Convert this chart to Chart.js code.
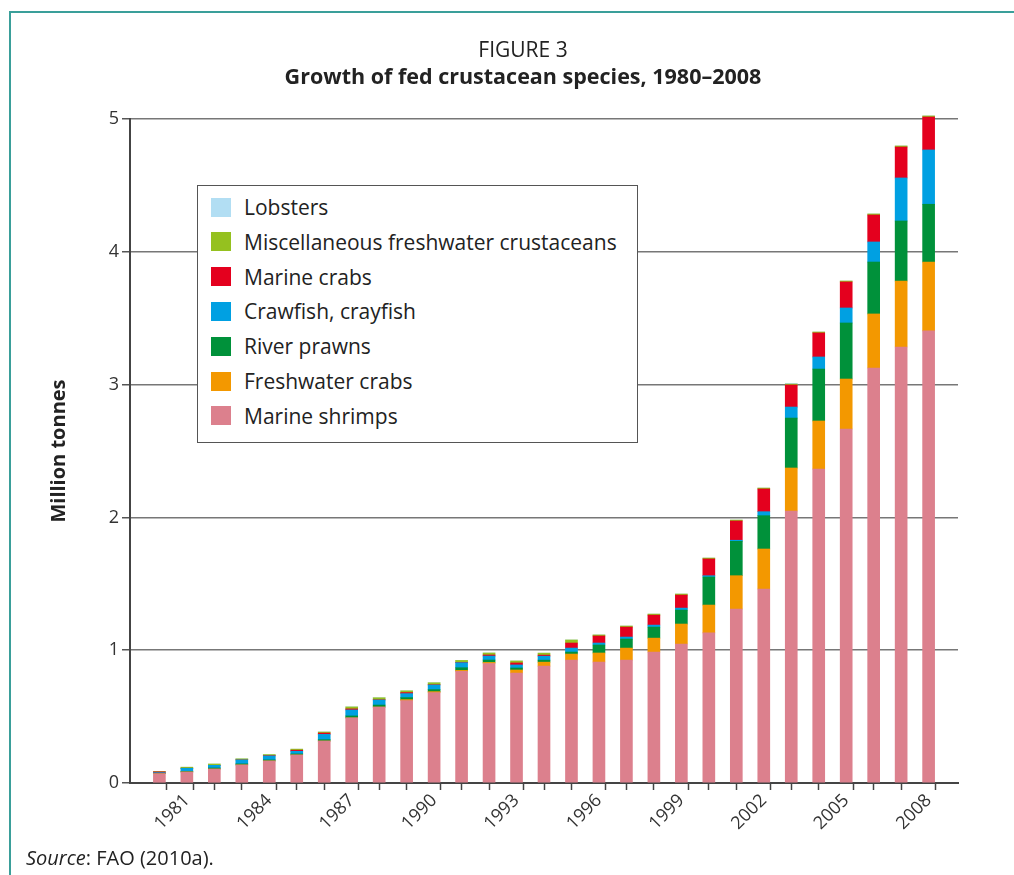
<!DOCTYPE html>
<html>
<head>
<meta charset="utf-8">
<script src="https://cdn.jsdelivr.net/npm/chart.js@4.4.1/dist/chart.umd.min.js"></script>
<style>
  html, body { margin: 0; padding: 0; background: #fff; }
  body { font-family: "Open Sans", "Noto Sans", sans-serif; color: #222; }
  #wrap { position: relative; width: 1014px; height: 875px; overflow: hidden; }
  #frame { position: absolute; left: 9px; top: 11px; width: 1100px; height: 900px;
           border-top: 2px solid #3a9f9a; border-left: 2px solid #3a9f9a; }
  #chart { position: absolute; left: 0; top: 0; }
  .title { position: absolute; left: 0; width: 1046px; text-align: center; line-height: 1; }
  #fig { top: 39px; font-size: 21px; }
  #sub { top: 65px; font-size: 21.5px; font-weight: bold; }
  #legend { position: absolute; left: 197px; top: 185px; width: 439px; height: 256px;
            border: 1.5px solid #555; background: #fff; }
  .item { position: absolute; left: 13px; height: 20px; display: flex; align-items: center; font-size: 21px; }
  .sw { width: 20px; height: 19px; margin-right: 13px; flex: none; }
  #source { position: absolute; left: 26px; top: 846px; font-size: 20px; line-height: 1.2; }
</style>
</head>
<body>
<div id="wrap">
  <div id="frame"></div>
  <canvas id="chart" width="1014" height="875"></canvas>
  <div class="title" id="fig">FIGURE 3</div>
  <div class="title" id="sub">Growth of fed crustacean species, 1980–2008</div>
  <div id="legend"></div>
  <div id="source"><i>Source</i>: FAO (2010a).</div>
</div>
<script>
const years = [1980, 1981, 1982, 1983, 1984, 1985, 1986, 1987, 1988, 1989,
  1990, 1991, 1992, 1993, 1994, 1995, 1996, 1997, 1998, 1999,
  2000, 2001, 2002, 2003, 2004, 2005, 2006, 2007, 2008];

// million tonnes
const marineShrimps = [0.07, 0.083, 0.105, 0.136, 0.166, 0.211, 0.316, 0.49, 0.572, 0.62,
  0.68, 0.84, 0.9, 0.828, 0.88, 0.926, 0.911, 0.926, 0.986, 1.047,
  1.13, 1.31, 1.461, 2.048, 2.364, 2.666, 3.125, 3.283, 3.404];
const freshwaterCrabs = [0, 0, 0, 0, 0, 0, 0, 0, 0, 0.008,
  0.008, 0.008, 0.008, 0.023, 0.03, 0.045, 0.068, 0.09, 0.105, 0.15,
  0.21, 0.251, 0.301, 0.324, 0.362, 0.376, 0.407, 0.497, 0.519];
const riverPrawns = [0.003, 0.005, 0.008, 0.008, 0.008, 0.008, 0.01, 0.015, 0.015, 0.015,
  0.015, 0.02, 0.018, 0.015, 0.015, 0.015, 0.06, 0.068, 0.083, 0.105,
  0.211, 0.259, 0.251, 0.376, 0.391, 0.422, 0.391, 0.452, 0.435];
const crawfish = [0.005, 0.023, 0.02, 0.03, 0.03, 0.02, 0.04, 0.045, 0.038, 0.03,
  0.035, 0.038, 0.03, 0.023, 0.03, 0.03, 0.015, 0.015, 0.015, 0.015,
  0.01, 0.008, 0.03, 0.083, 0.091, 0.113, 0.151, 0.324, 0.409];
const marineCrabs = [0.006, 0, 0, 0, 0.002, 0.008, 0.01, 0.008, 0.002, 0.008,
  0.002, 0.002, 0.008, 0.015, 0.008, 0.038, 0.053, 0.075, 0.075, 0.098,
  0.126, 0.145, 0.171, 0.166, 0.181, 0.196, 0.203, 0.233, 0.248];
const miscFreshwater = [0.003, 0.008, 0.01, 0.008, 0.008, 0.008, 0.008, 0.015, 0.015, 0.013,
  0.015, 0.015, 0.015, 0.015, 0.015, 0.023, 0.008, 0.008, 0.008, 0.008,
  0.007, 0.007, 0.007, 0.007, 0.007, 0.007, 0.008, 0.008, 0.008];
const lobsters = [0, 0, 0, 0, 0, 0, 0, 0, 0, 0,
  0, 0, 0, 0, 0, 0, 0, 0, 0, 0,
  0, 0, 0, 0.006, 0, 0, 0, 0, 0];

const yTicks = [0, 1, 2, 3, 4, 5];
const labelYears = [1981, 1984, 1987, 1990, 1993, 1996, 1999, 2002, 2005, 2008];

// bottom-to-top stacking order
const series = [
  { label: 'Marine shrimps', data: marineShrimps, color: '#dc808d' },
  { label: 'Freshwater crabs', data: freshwaterCrabs, color: '#f39800' },
  { label: 'River prawns', data: riverPrawns, color: '#00913a' },
  { label: 'Crawfish, crayfish', data: crawfish, color: '#00a0e2' },
  { label: 'Marine crabs', data: marineCrabs, color: '#e4001e' },
  { label: 'Miscellaneous freshwater crustaceans', data: miscFreshwater, color: '#95c11f' },
  { label: 'Lobsters', data: lobsters, color: '#b2def3' }
];

// legend box (top item = last series)
const legend = document.getElementById('legend');
series.slice().reverse().forEach((s, i) => {
  const row = document.createElement('div');
  row.className = 'item';
  row.style.top = (11 + i * 34.8) + 'px';
  row.innerHTML = `<span class="sw" style="background:${s.color}"></span><span>${s.label}</span>`;
  legend.appendChild(row);
});

// small side gap so bars sit like in the print
const xMin = years[0] - 0.673;
const xMax = years[years.length - 1] + 0.673;

new Chart(document.getElementById('chart'), {
  type: 'bar',
  data: {
    datasets: series.map(s => ({
      label: s.label,
      data: s.data.map((v, i) => ({ x: years[i], y: v })),
      backgroundColor: s.color,
      borderWidth: 0,
      barThickness: 12,
      clip: false
    }))
  },
  options: {
    responsive: false,
    animation: false,
    layout: { padding: { left: 45, right: 56, top: 119, bottom: 0 } },
    plugins: {
      legend: { display: false },
      tooltip: { enabled: false }
    },
    scales: {
      x: {
        type: 'linear',
        stacked: true,
        min: xMin,
        max: xMax,
        afterBuildTicks: (scale) => {
          const vals = [];
          for (let i = 0; i < years.length - 1; i++) vals.push(years[i] + 0.5);
          labelYears.forEach(y => vals.push(y));
          vals.sort((a, b) => a - b);
          scale.ticks = vals.map(v => ({ value: v }));
        },
        afterFit: (scale) => { scale.height = 92; },
        border: { color: '#444', width: 2 },
        grid: {
          drawOnChartArea: false,
          drawTicks: true,
          tickLength: 7,
          tickWidth: 1.5,
          tickColor: (ctx) => (ctx.tick && Number.isInteger(ctx.tick.value)) ? 'rgba(0,0,0,0)' : '#444'
        },
        ticks: {
          autoSkip: false,
          minRotation: 45,
          maxRotation: 45,
          padding: 0,
          color: '#333',
          font: { family: 'Open Sans', size: 18 },
          callback: (v) => labelYears.includes(v) ? String(v) : ''
        }
      },
      y: {
        stacked: true,
        min: 0,
        max: 5,
        afterBuildTicks: (scale) => { scale.ticks = yTicks.map(v => ({ value: v })); },
        afterFit: (scale) => { scale.width = 85; },
        border: { color: '#444', width: 2 },
        grid: {
          color: '#777',
          lineWidth: 1.5,
          tickLength: 8,
          tickColor: '#555'
        },
        ticks: {
          padding: 3,
          color: '#333',
          font: { family: 'Open Sans', size: 18 }
        },
        title: {
          display: true,
          text: 'Million tonnes',
          color: '#222',
          padding: { top: 2, bottom: 0 },
          font: { family: 'Open Sans', size: 20, weight: 'bold' }
        }
      }
    }
  }
});
</script>
</body>
</html>
